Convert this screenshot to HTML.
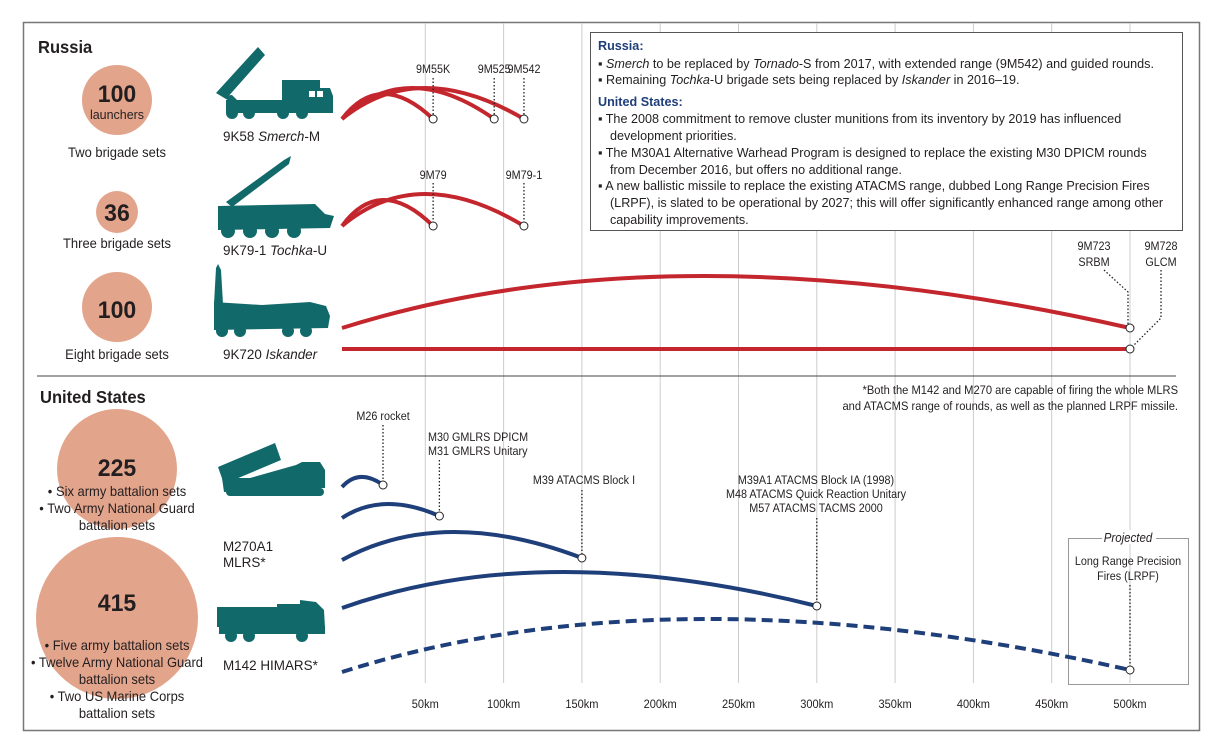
<!DOCTYPE html>
<html><head><meta charset="utf-8">
<style>
html,body{margin:0;padding:0;background:#fff;}
body{width:1207px;height:738px;overflow:hidden;font-family:"Liberation Sans Narrow","Liberation Sans",sans-serif;}
svg text{font-family:"Liberation Sans Narrow","Liberation Sans",sans-serif;fill:#231f20;}
</style></head>
<body>
<svg id="chart" width="1207" height="738" xmlns="http://www.w3.org/2000/svg">
<rect x="23.5" y="22.5" width="1176" height="708" fill="none" stroke="#777" stroke-width="1.5"/>
<g id="grid"></g>
<line x1="37" y1="376" x2="1176" y2="376" stroke="#444" stroke-width="1"/>

<g class="sx92">
<text x="38" y="53" font-size="18" font-weight="bold">Russia</text>
<text x="40" y="403" font-size="18" font-weight="bold">United States</text>
</g>

<g class="sx96" font-weight="bold" text-anchor="middle">
<circle cx="117" cy="100" r="35" fill="#e3a48c"/>
<text x="117" y="102" font-size="24">100</text>
<text x="117" y="119" font-size="13" font-weight="normal">launchers</text>
<text x="117" y="157" font-size="13.5" font-weight="normal">Two brigade sets</text>
<circle cx="117" cy="212" r="21" fill="#e3a48c"/>
<text x="117" y="221" font-size="24">36</text>
<text x="117" y="248" font-size="13.5" font-weight="normal">Three brigade sets</text>
<circle cx="117" cy="307" r="35" fill="#e3a48c"/>
<text x="117" y="318" font-size="24">100</text>
<text x="117" y="359" font-size="13.5" font-weight="normal">Eight brigade sets</text>
</g>
<g class="sx96" text-anchor="middle" font-size="13.5">
<circle cx="117" cy="469" r="60" fill="#e3a48c"/>
<text x="117" y="476" font-size="24" font-weight="bold">225</text>
<text x="117" y="496">• Six army battalion sets</text>
<text x="117" y="513">• Two Army National Guard</text>
<text x="117" y="530">battalion sets</text>
<circle cx="117" cy="618" r="81" fill="#e3a48c"/>
<text x="117" y="611" font-size="24" font-weight="bold">415</text>
<text x="117" y="650">• Five army battalion sets</text>
<text x="117" y="667">• Twelve Army National Guard</text>
<text x="117" y="684">battalion sets</text>
<text x="117" y="701">• Two US Marine Corps</text>
<text x="117" y="718">battalion sets</text>
</g>

<g fill="#12696a">
<g>
<polygon points="216,93 258,47 265,55 226,99"/>
<polygon points="222,96 232,95 240,103 236,106"/>
<rect x="282" y="80" width="38" height="26"/>
<polygon points="320,88 330,88 333,96 333,106 320,106"/>
<rect x="226" y="100" width="107" height="13"/>
<circle cx="232" cy="113" r="6"/><circle cx="249" cy="113" r="6"/><circle cx="283" cy="113" r="6"/><circle cx="302" cy="113" r="6"/>
<rect x="309" y="91" width="6" height="6" fill="#fff"/><rect x="317" y="91" width="6" height="6" fill="#fff"/>
</g>
<g>
<polygon points="226,202 284,160 291,156 289,164 232,207"/>
<polygon points="218,206 315,204 325,214 334,216 330,228 218,230"/>
<circle cx="228" cy="231" r="7"/><circle cx="250" cy="231" r="7"/><circle cx="272" cy="231" r="7"/><circle cx="294" cy="231" r="7"/>
</g>
<g>
<polygon points="214,304 216,268 218,264 221,270 223,304"/>
<polygon points="214,302 262,305 310,302 326,306 330,316 328,328 214,330"/>
<circle cx="222" cy="331" r="6"/><circle cx="240" cy="331" r="6"/><circle cx="288" cy="331" r="6"/><circle cx="306" cy="331" r="6"/>
</g>
<g>
<polygon points="218,467 275,443 281,460 224,484"/>
<polygon points="250,478 296,465 302,462 320,462 325,470 325,488 224,492 222,478"/>
<rect x="226" y="488" width="98" height="8" rx="4"/>
</g>
<g>
<rect x="217" y="607" width="60" height="20"/>
<polygon points="277,604 300,604 300,600 316,602 324,610 325,628 277,628"/>
<rect x="219" y="626" width="106" height="8"/>
<circle cx="231" cy="636" r="6"/><circle cx="249" cy="636" r="6"/><circle cx="302" cy="636" r="6"/>
</g>
</g>
<g class="sx96" font-size="14">
<text x="223" y="141">9K58 <tspan font-style="italic">Smerch</tspan>-M</text>
<text x="223" y="255">9K79-1 <tspan font-style="italic">Tochka</tspan>-U</text>
<text x="223" y="359">9K720 <tspan font-style="italic">Iskander</tspan></text>
<text x="223" y="551">M270A1</text>
<text x="223" y="567">MLRS*</text>
<text x="223" y="670">M142 HIMARS*</text>
</g>

<g class="sx97" font-size="13">
<rect x="590.5" y="32.5" width="592" height="198" fill="#fff" stroke="#555" stroke-width="1"/>
<text x="598" y="50" font-weight="bold" style="fill:#1f3f7a">Russia:</text>
<text x="598" y="68">▪ <tspan font-style="italic">Smerch</tspan> to be replaced by <tspan font-style="italic">Tornado</tspan>-S from 2017, with extended range (9M542) and guided rounds.</text>
<text x="598" y="84">▪ Remaining <tspan font-style="italic">Tochka</tspan>-U brigade sets being replaced by <tspan font-style="italic">Iskander</tspan> in 2016–19.</text>
<text x="598" y="106" font-weight="bold" style="fill:#1f3f7a">United States:</text>
<text x="598" y="123">▪ The 2008 commitment to remove cluster munitions from its inventory by 2019 has influenced</text>
<text x="610" y="140">development priorities.</text>
<text x="598" y="157">▪ The M30A1 Alternative Warhead Program is designed to replace the existing M30 DPICM rounds</text>
<text x="610" y="174">from December 2016, but offers no additional range.</text>
<text x="598" y="190">▪ A new ballistic missile to replace the existing ATACMS range, dubbed Long Range Precision Fires</text>
<text x="610" y="207">(LRPF), is slated to be operational by 2027; this will offer significantly enhanced range among other</text>
<text x="610" y="224">capability improvements.</text>
</g>

<g class="sx93" font-size="12" text-anchor="end">
<text x="1178" y="394">*Both the M142 and M270 are capable of firing the whole MLRS</text>
<text x="1178" y="410">and ATACMS range of rounds, as well as the planned LRPF missile.</text>
</g>

<rect x="1068.5" y="538.5" width="120" height="146" fill="none" stroke="#999" stroke-width="1"/>
<rect x="1102" y="530" width="54" height="14" fill="#fff"/>
<text class="sx92" x="1128" y="542" font-size="12.5" font-style="italic" text-anchor="middle">Projected</text>

<g id="arcs"></g>
<g class="sx90" id="labels" font-size="12"></g>
<g class="sx92" id="ticks" font-size="12" text-anchor="middle"></g>
</svg>
<script>
const tickKm = [50,100,150,200,250,300,350,400,450,500];
const tickLabels = ["50km","100km","150km","200km","250km","300km","350km","400km","450km","500km"];
const smerchRanges = [55, 94, 113];
const smerchNames = ["9M55K","9M525","9M542"];
const tochkaRanges = [55, 113];
const tochkaNames = ["9M79","9M79-1"];
const iskanderRanges = [500, 500];
const usRanges = [23, 59, 150, 300, 500];
const usNames = [["M26 rocket"],["M30 GMLRS DPICM","M31 GMLRS Unitary"],["M39 ATACMS Block I"],["M39A1 ATACMS Block IA (1998)","M48 ATACMS Quick Reaction Unitary","M57 ATACMS TACMS 2000"],["Long Range Precision","Fires (LRPF)"]];

const NS = "http://www.w3.org/2000/svg";
const X0 = 347, PX = 1.566;
function xs(km){ return X0 + km*PX; }
function mk(tag, attrs, parent){ const e=document.createElementNS(NS,tag); for(const k in attrs) e.setAttribute(k,attrs[k]); parent.appendChild(e); return e; }
const grid=document.getElementById('grid'), arcs=document.getElementById('arcs'), labels=document.getElementById('labels'), ticks=document.getElementById('ticks');

tickKm.forEach((km,i)=>{
  const l=mk('line',{x1:xs(km),x2:xs(km),y1:23,y2:683,stroke:'#ccc','stroke-width':1},grid);
  
  
  const t=mk('text',{x:xs(km),y:708},ticks);
  t.textContent=tickLabels[i];
  
  
});

const SX = 342;
function arc(km, y0, y1, peak, color, dashed, name){
  const x1 = xs(km);
  const cx = SX + (x1-SX)*0.42;
  const cy = 2*peak - (y0+y1)/2;
  const p = mk('path',{d:`M${SX},${y0} Q${cx},${cy} ${x1},${y1}`,fill:'none',stroke:color,'stroke-width':4},arcs);
  if(dashed) p.setAttribute('stroke-dasharray','11 6');
  
  
  return x1;
}
function dot(x,y,name){
  const c=mk('circle',{cx:x,cy:y,r:4,fill:'#fff',stroke:'#222','stroke-width':1},arcs);
  
  
}
function dotted(pts,name){
  const p=mk('polyline',{points:pts.map(p=>p.join(',')).join(' '),fill:'none',stroke:'#222','stroke-width':1.3,'stroke-dasharray':'1.5 2'},labels);
  
  
}
function txt(x,y,s,anchor,name){
  const t=mk('text',{x:x,y:y,'text-anchor':anchor||'middle'},labels);
  t.textContent=s;
  
  
}
const RED='#c4262e', BLUE='#1f3f7a';
const smerchPeaks=[94,88,88];
smerchRanges.forEach((km,i)=>{
  const x=arc(km,119,119,smerchPeaks[i],RED,false,'arc-'+smerchNames[i]);
  dotted([[x,78],[x,115]],'leader-'+smerchNames[i]);
  dot(x,119,'end-'+smerchNames[i]);
  txt(x,73,smerchNames[i],'middle','label-'+smerchNames[i]);
});
const tochkaPeaks=[200,194];
tochkaRanges.forEach((km,i)=>{
  const x=arc(km,226,226,tochkaPeaks[i],RED,false,'arc-'+tochkaNames[i]);
  dotted([[x,183],[x,222]],'leader-'+tochkaNames[i]);
  dot(x,226,'end-'+tochkaNames[i]);
  txt(x,179,tochkaNames[i],'middle','label-'+tochkaNames[i]);
});
{
  const x=arc(iskanderRanges[0],328,328,276,RED,false,'arc-9M723');
  const x2=xs(iskanderRanges[1]);
  const l=mk('line',{x1:SX,y1:349,x2:x2,y2:349,stroke:RED,'stroke-width':4},arcs);
  
  
  dotted([[1104,270],[1128,292],[1128,324]],'leader-9M723');
  dotted([[1161,270],[1161,318],[x2+3,346]],'leader-9M728');
  dot(x,328,'end-9M723'); dot(x2,349,'end-9M728');
  txt(1094,250,'9M723','middle','label-9M723'); txt(1094,266,'SRBM','middle','label-srbm');
  txt(1161,250,'9M728','middle','label-9M728'); txt(1161,266,'GLCM','middle','label-glcm');
}
const usY0=[487,518,560,608,672], usPeak=[477,504,532,572,619];
const usLabelY=[[420],[441,455],[484],[484,498,512],[565,580]];
const usLabelX=[381,428,584,816,1128];
const usAnchor=['middle','start','middle','middle','middle'];
const usLeaderTop=[425,460,490,518,585];
usRanges.forEach((km,i)=>{
  const x=arc(km,usY0[i],usY0[i]-2,usPeak[i],BLUE,i===4,'arc-us-'+i);
  dotted([[x,usLeaderTop[i]],[x,usY0[i]-6]],'leader-us-'+i);
  dot(x,usY0[i]-2,'end-us-'+i);
  usNames[i].forEach((s,j)=>txt(i===0?x:usLabelX[i],usLabelY[i][j],s,usAnchor[i],'label-us-'+i+'-'+j));
});
// condense text horizontally to mimic a condensed typeface
document.querySelectorAll('svg text').forEach(t=>{
  const g=t.closest('[class^="sx"]');
  const f=g?parseInt(g.getAttribute('class').slice(2))/100:0.95;
  const a=getComputedStyle(t).textAnchor;
  t.style.transformBox='fill-box';
  t.style.transformOrigin = a==='middle'?'center':(a==='end'?'right':'left');
  t.style.transform='scaleX('+f+')';
});
</script>
</body></html>
